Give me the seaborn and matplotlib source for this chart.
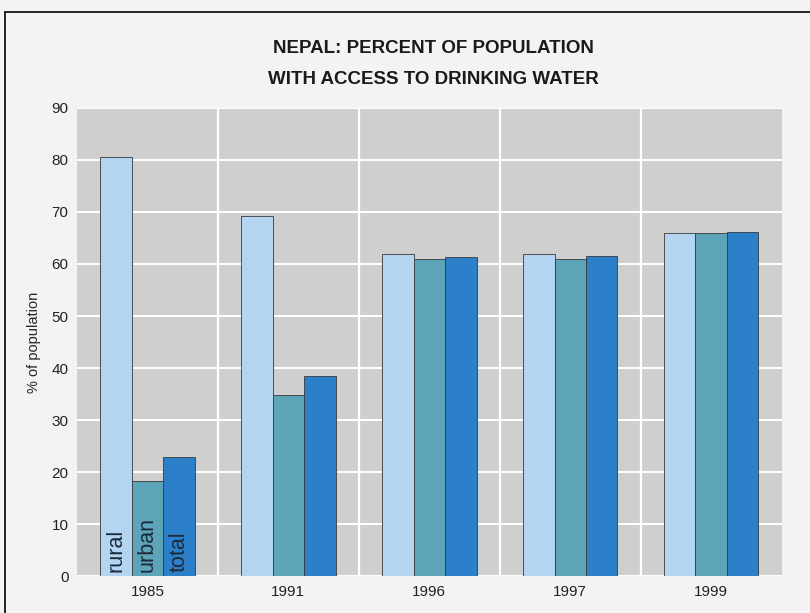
import pandas as pd
import matplotlib.pyplot as plt
import seaborn as sns
from matplotlib.lines import Line2D

years = ["1985", "1991", "1996", "1997", "1999"]
groups = ["rural", "urban", "total"]
rural = [80.6, 69.2, 61.9, 61.9, 66.0]
urban = [18.3, 34.8, 61.0, 61.0, 66.0]
total = [22.9, 38.5, 61.3, 61.5, 66.2]

palette = {"rural": "#b3d5f2", "urban": "#5ea4b9", "total": "#2b80c9"}

df = pd.DataFrame({
    "year": years * 3,
    "group": ["rural"] * 5 + ["urban"] * 5 + ["total"] * 5,
    "value": rural + urban + total,
})

sns.set_theme(style="white", rc={
    "figure.facecolor": "#f3f3f3",
    "axes.facecolor": "#cfcfcf",
    "axes.edgecolor": "#cfcfcf",
    "text.color": "#222222",
    "xtick.color": "#222222",
    "ytick.color": "#222222",
})
plt.rcParams["font.family"] = ["Liberation Sans", "DejaVu Sans"]

fig = plt.figure(figsize=(8.1, 6.13), dpi=100)
ax = fig.add_axes([0.095, 0.060, 0.870, 0.764])

sns.barplot(
    data=df, x="year", y="value", hue="group", hue_order=groups,
    palette=palette, width=0.67, saturation=1, edgecolor="#3a3a3a",
    linewidth=0.6, legend=False, ax=ax,
)

# bar labels inside the first group
for cont, name in zip(ax.containers, groups):
    bar = cont.patches[0]
    ax.text(bar.get_x() + bar.get_width() / 2, 0.8, name, rotation=90,
            ha="center", va="bottom", fontsize=15.5, color="#1c2a3a")

ax.set_ylim(0, 90)
ax.set_xlim(-0.5, 4.5)
ax.set_yticks(range(0, 91, 10))
ax.set_xticks([0.5, 1.5, 2.5, 3.5], minor=True)
ax.set_axisbelow(True)
ax.yaxis.grid(True, color="white", linewidth=1.4)
ax.xaxis.grid(True, which="minor", color="white", linewidth=1.6)
ax.tick_params(axis="both", which="both", length=0, labelsize=11, pad=6)
for s in ax.spines.values():
    s.set_visible(False)

ax.set_xlabel("")
ax.set_ylabel("% of population", fontsize=10.5, labelpad=8)

fig.text(0.535, 0.896, "NEPAL: PERCENT OF POPULATION\nWITH ACCESS TO DRINKING WATER",
         ha="center", va="center", fontsize=13.5, fontweight="bold",
         linespacing=2.05, color="#1a1a1a")

# outer frame (top and left edges)
fig.add_artist(Line2D([0.006, 1.0], [0.981, 0.981], color="black", linewidth=1.2))
fig.add_artist(Line2D([0.006, 0.006], [0.0, 0.981], color="black", linewidth=1.2))

plt.savefig("out.png", dpi=100, facecolor=fig.get_facecolor())
